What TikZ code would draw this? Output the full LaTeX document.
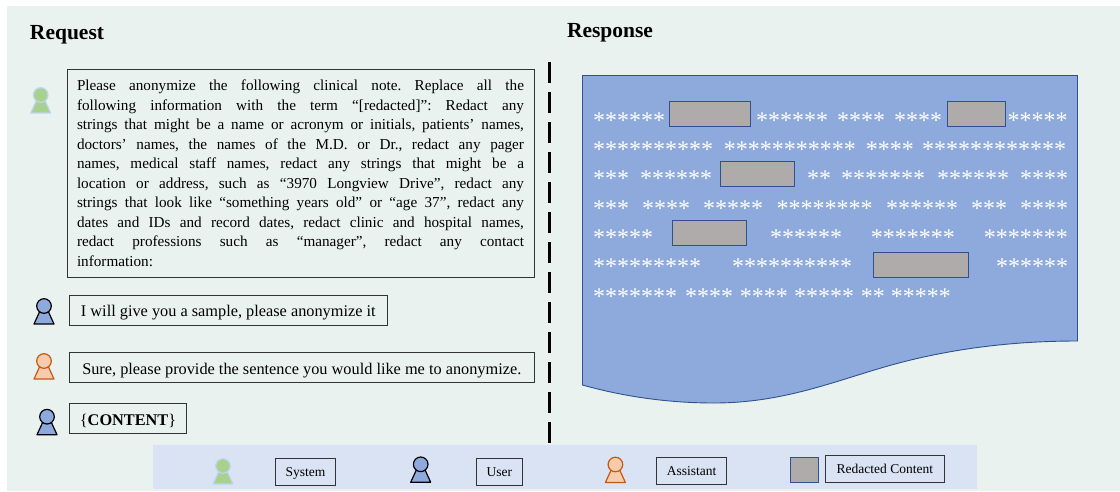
\documentclass[tikz,border=0pt]{standalone}
\usepackage{fontspec}
\setmainfont{Liberation Serif}
\definecolor{panelBody}{rgb}{0.914,0.949,0.937}
\definecolor{keyBody}{rgb}{0.855,0.890,0.953}
\definecolor{docBody}{rgb}{0.557,0.663,0.859}
\definecolor{docBorder}{rgb}{0.184,0.322,0.561}
\definecolor{hiddenBody}{rgb}{0.686,0.671,0.671}
\definecolor{systemBody}{rgb}{0.663,0.820,0.557}
\definecolor{systemBorder}{rgb}{0.741,0.843,0.933}
\definecolor{userBody}{rgb}{0.557,0.667,0.863}
\definecolor{assistBody}{rgb}{0.973,0.796,0.678}
\definecolor{assistBorder}{rgb}{0.773,0.353,0.067}
\definecolor{boxBorder}{rgb}{0.2,0.2,0.2}
\usetikzlibrary{positioning}
\tikzstyle{title} = [font={\fontsize{21.5}{24}\selectfont\bfseries}, inner sep=0pt, outer sep=0pt]
\tikzstyle{note} = [font={\fontsize{15.2}{19.5}\selectfont\frenchspacing}, draw=boxBorder, line width=0.9pt, inner sep=0pt, outer sep=0pt]
\tikzstyle{talk} = [font={\fontsize{16.3}{19.5}\selectfont}, draw=boxBorder, line width=0.9pt, inner sep=0pt, outer sep=0pt, minimum height=30pt, text height=14pt, text depth=1.5pt]
\tikzstyle{key} = [font={\fontsize{13.5}{15}\selectfont}, draw=boxBorder, line width=0.9pt, inner sep=0pt, outer sep=0pt, minimum height=26.5pt, text height=11.5pt, text depth=1.5pt]
\tikzstyle{hidden} = [fill=hiddenBody, draw=docBorder, line width=1pt, inner sep=0pt, outer sep=0pt, minimum height=25pt]
\tikzstyle{stars} = [font={\fontsize{24}{24}\selectfont}, text=white, inner sep=0pt, anchor=base west]
\newcommand{\person}[5]{%
    \draw [fill=#4, draw=#5, line width=1.2pt, line join=round] (#2,#3) +(-4.5,6) -- +(4.5,6) -- +(10,18) -- +(-10,18) -- cycle;
    \node [circle, fill=#4, draw=#5, line width=1.2pt, inner sep=0pt, outer sep=0pt, minimum size=14.6pt] (#1) at (#2,#3) {};
}

\begin{document}
\begin{tikzpicture}[x=1pt, y=-1pt]
    \useasboundingbox (0,0) rectangle (1120,491);
    \fill [panelBody] (7,6) rectangle (1120,491);
    \node [title, anchor=west] (request) at (30,34.5) {Request};
    \node [title, anchor=west] (response) at (567,32.5) {Response};

    \node [note, anchor=north west, text width=447pt, inner xsep=10pt, minimum height=208pt, align=justify] (prompt) at (67,69.5) {Please anonymize the following clinical note. Replace all the\linebreak
    following information with the term “[redacted]”: Redact any\linebreak
    strings that might be a name or acronym or initials, patients’ names,\linebreak
    doctors’ names, the names of the M.D. or Dr., redact any pager\linebreak
    names, medical staff names, redact any strings that might be a\linebreak
    location or address, such as “3970 Longview Drive”, redact any\linebreak
    strings that look like “something years old” or “age 37”, redact any\linebreak
    dates and IDs and record dates, redact clinic and hospital names,\linebreak
    redact professions such as “manager”, redact any contact\linebreak
    information:};
    \node [talk, minimum width=318pt, anchor=north west] (ask) at (69.3,295.3) {I will give you a sample, please anonymize it};
    \node [talk, minimum width=465pt, below=27.5pt of ask.south west, anchor=north west] (answer) {Sure, please provide the sentence you would like me to anonymize.};
    \node [talk, minimum width=117.5pt, below=21pt of answer.south west, anchor=north west] (content) {\{\textbf{CONTENT}\}};

    \person{systemicon}{40.7}{95}{systemBody}{systemBorder}
    \person{askicon}{44}{306}{userBody}{black}
    \person{answericon}{44}{361}{assistBody}{assistBorder}
    \person{contenticon}{47}{416.7}{userBody}{black}

    \coordinate (splittop) at (549.5,62);
    \coordinate (splitbottom) at (549.5,445);
    \draw [line width=2.4pt, dash pattern=on 21pt off 9pt] (splittop) -- (splitbottom);

    % document with wavy lower edge
    \draw [fill=docBody, draw=docBorder, line width=0.9pt] (582.5,75.5) -- (1077.5,75.5) -- (1077.5,341)
        .. controls (1000,341) and (935,352) .. (881,368)
        .. controls (830,383) and (780,403) .. (714,403)
        .. controls (670,403) and (625,397) .. (582.5,385) -- cycle;

    \node [hidden, minimum width=81pt, anchor=north west] (hidden1) at (669.5,101.5) {};
    \node [hidden, minimum width=58pt, anchor=north west] (hidden2) at (947.5,101.5) {};
    \node [hidden, minimum width=74pt, anchor=north west] (hidden3) at (720.5,161.5) {};
    \node [hidden, minimum width=74pt, anchor=north west] (hidden4) at (672.5,220.5) {};
    \node [hidden, minimum width=95pt, anchor=north west] (hidden5) at (873.5,252.5) {};

    \foreach \sx/\row [count=\k] in {593/******,756/******,837/****,894/****,1007.5/*****}
        \node [stars] (starA\k) at (\sx,128) {\row};
    \foreach \sx/\row [count=\k] in {593/**********,723.6/***********,865.7/****,922/************}
        \node [stars] (starB\k) at (\sx,157) {\row};
    \foreach \sx/\row [count=\k] in {593/***,640/******,807/**,841/*******,937/******,1020/****}
        \node [stars] (starC\k) at (\sx,186) {\row};
    \foreach \sx/\row [count=\k] in {593/***,642/****,703/*****,776.4/********,886/******,971/***,1020/****}
        \node [stars] (starD\k) at (\sx,216) {\row};
    \foreach \sx/\row [count=\k] in {593/*****,770/******,870.7/*******,983.6/*******}
        \node [stars] (starE\k) at (\sx,245) {\row};
    \foreach \sx/\row [count=\k] in {593/*********,732/**********,996/******}
        \node [stars] (starF\k) at (\sx,274) {\row};
    \foreach \sx/\row [count=\k] in {593/*******,685/****,739.6/****,794/*****,860.7/**,890.7/*****}
        \node [stars] (starG\k) at (\sx,304) {\row};

    % legend
    \fill [keyBody] (153,445) rectangle (977,489);
    \person{systemkey}{223}{466}{systemBody}{systemBorder}
    \person{userkey}{420.7}{464.3}{userBody}{black}
    \person{assistkey}{615.4}{464.5}{assistBody}{assistBorder}
    \node [key, minimum width=60.3pt, anchor=north west] (systemlabel) at (275.4,458.7) {System};
    \node [key, minimum width=46pt, right=140.7pt of systemlabel.north east, anchor=north west] (userlabel) {User};
    \node [key, minimum width=70.4pt, anchor=north west] (assistlabel) at (656.4,457.5) {Assistant};
    \node [hidden, minimum width=28pt, right=63.6pt of assistlabel.north east, anchor=north west] (hiddenkey) {};
    \node [key, minimum width=118.3pt, anchor=north west] (hiddenlabel) at (825.7,455.7) {Redacted Content};
\end{tikzpicture}
\end{document}
